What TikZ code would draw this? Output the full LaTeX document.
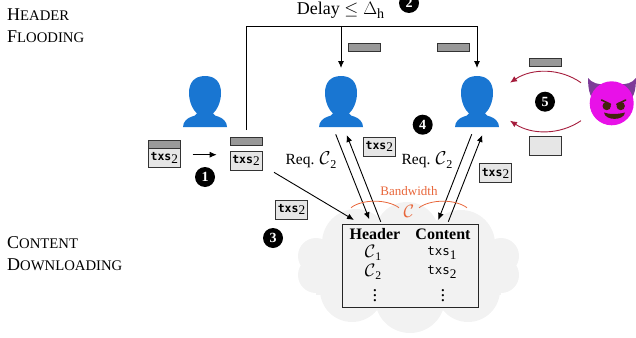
\RequirePackage{fix-cm}
\documentclass[tikz,border=0pt]{standalone}
\usepackage{amsmath}
\usepackage{graphicx}
\usepackage{fontspec}
\setmainfont{Liberation Serif}
\newfontfamily\txsfont{DejaVu Sans Mono}
\usetikzlibrary{arrows.meta,calc}
\definecolor{barg}{HTML}{999999}
\definecolor{bodyg}{HTML}{E6E6E6}
\definecolor{cloudg}{HTML}{F2F2F2}
\definecolor{personb}{HTML}{1976D2}
\definecolor{redc}{HTML}{A51C3C}
\definecolor{orangec}{HTML}{E8663A}
\definecolor{devilf}{HTML}{E811E8}
\definecolor{devilh}{HTML}{7D3C98}
\definecolor{devile}{HTML}{44240C}
\newcommand{\lowsub}[1]{\raisebox{-0.22em}{\scalebox{0.78}{#1}}}
\newcommand{\txst}[1]{{\fontsize{11.5}{12}\selectfont\txsfont\bfseries txs}\lowsub{\fontsize{17}{17}\selectfont #1}}
\newcommand{\txsr}[1]{{\fontsize{12.5}{13}\selectfont\txsfont txs}\lowsub{\fontsize{17}{17}\selectfont #1}}
\newcommand{\bigC}{\scalebox{1.2}{$\mathcal{C}$}}
\newcommand{\cc}[1]{\bigC\lowsub{#1}}
\newcommand{\fsc}[2]{{\fontsize{18}{18}\selectfont #1\fontsize{14.7}{18}\selectfont #2}}
\tikzset{
  conn/.style={line width=0.9pt,-{Latex[length=7pt,width=6pt]}},
  redarr/.style={line width=0.9pt,redc,-{Latex[length=7pt,width=6pt]}},
  orangearc/.style={line width=0.8pt,orangec},
  bar/.style={draw=black!80,line width=0.9pt,fill=barg,minimum width=32pt,minimum height=8pt,inner sep=0pt,outer sep=0pt},
  txsbox/.style={draw=black!80,line width=0.9pt,fill=bodyg,minimum width=32pt,minimum height=19pt,inner sep=0pt,outer sep=0pt},
  num/.style={circle,fill=black,text=white,minimum size=20pt,inner sep=0pt,font=\fontsize{14}{14}\selectfont\bfseries},
  lbl/.style={inner sep=0pt,font=\fontsize{15.5}{16}\selectfont},
  sidelbl/.style={inner sep=0pt,anchor=west},
  tbl/.style={inner sep=0pt,font=\fontsize{15}{16}\selectfont},
  tblh/.style={inner sep=0pt,font=\fontsize{16}{16}\selectfont\bfseries},
  cloudpart/.style={fill=cloudg},
}
\newcommand{\personicon}[2]{%
  \begin{scope}[shift={(#1,#2)}]
    \fill[personb] (0,-51) .. controls (-11,-51) and (-16,-44) .. (-16,-34)
      .. controls (-16,-25) and (-12,-17) .. (-8,-13.5)
      .. controls (-9,-11.5) and (-11,-11) .. (-13,-10.5)
      .. controls (-18,-9) and (-22,-5) .. (-22,0)
      -- (22,0)
      .. controls (22,-5) and (18,-9) .. (13,-10.5)
      .. controls (11,-11) and (9,-11.5) .. (8,-13.5)
      .. controls (12,-17) and (16,-25) .. (16,-34)
      .. controls (16,-44) and (11,-51) .. (0,-51) -- cycle;
  \end{scope}}
\begin{document}
\begin{tikzpicture}[x=1pt,y=-1pt]
\useasboundingbox (0,0) rectangle (636,337);
% cloud
\foreach \cx/\cy/\cr in {316/256/18,316/275/18,501/256/18,501/275/18,356/243/34,407/234/32,461/244/34,352/290/32,410/298/35,468/290/32}
  {\fill[cloudpart] (\cx,\cy) circle (\cr);}
\fill[cloudpart] (316,240) rectangle (501,295);
% persons
\personicon{205}{127}
\personicon{341}{127}
\personicon{477}{127}
% devil
\fill[devilh] (588,78) .. controls (588,92) and (591,100) .. (597,101) -- (606,84) .. controls (598,85) and (592,83) .. (588,78) -- cycle;
\fill[devilh] (636,78) .. controls (636,92) and (633,100) .. (627,101) -- (618,84) .. controls (626,85) and (632,83) .. (636,78) -- cycle;
\fill[devilf] (611.7,103.3) circle (22);
\fill[devile] (606.7,106) circle (4.2);
\fill[devile] (620.7,106) circle (4.2);
\fill[devilf] (601,99) -- (611,104) -- (604,96) -- cycle;
\draw[devile,line width=1.6pt,line cap=round] (601.5,100) -- (610.5,104.3) (625.7,100) -- (616.8,104.3);
\fill[devile] (604,112.5) .. controls (609,114.5) and (618,114.5) .. (625,112.5) .. controls (624,121) and (605,121) .. (604,112.5) -- cycle;
% table
\node[draw=black!85,line width=1pt,fill=cloudg,minimum width=136.5pt,minimum height=83pt,inner sep=0pt,outer sep=0pt] (table) at (410.6,265.8) {};
\node[tblh] (hh) at (375,234) {Header};
\node[tblh] (hc) at (443,234) {Content};
\node[tbl] (c1) at (373,253) {\cc{1}};
\node[tbl] (t1) at (442,253) {\txsr{1}};
\node[tbl] (c2) at (373,272) {\cc{2}};
\node[tbl] (t2) at (442,272) {\txsr{2}};
\node[tbl] (d1) at (375,292) {\scalebox{1.25}{$\vdots$}};
\node[tbl] (d2) at (443,292) {\scalebox{1.25}{$\vdots$}};
% boxes
\node[bar] (b0) at (164.3,144.5) {};
\node[txsbox,minimum height=18.5pt] (t0) at (164.3,158) {\txst{2}};
\node[bar] (b1) at (246,141.8) {};
\node[txsbox] (t1b) at (246,160.6) {\txst{2}};
\node[bar] (b2) at (364.3,47.8) {};
\node[bar] (b3) at (453.8,47.8) {};
\node[bar] (b4) at (545.2,62.7) {};
\node[txsbox] (e4) at (545.2,146.2) {};
\node[txsbox] (t2b) at (379.3,146.7) {\txst{2}};
\node[txsbox] (t3b) at (495.5,173.2) {\txst{2}};
\node[txsbox] (t4b) at (291.5,209.5) {\txst{2}};
% labels
\node[num] (n1) at (205,177) {1};
\node[num] (n2) at (409,3) {2};
\node[num] (n3) at (273,238) {3};
\node[num] (n4) at (422.7,124.7) {4};
\node[num] (n5) at (545,101.7) {5};
\node[inner sep=0pt,font=\fontsize{18}{19}\selectfont] (delay) at (340.5,10.5) {Delay $\leq\Delta$\lowsub{h}};
\node[lbl] (r1) at (311,160) {Req. \cc{2}};
\node[lbl] (r2) at (427,160) {Req. \cc{2}};
\node[sidelbl] (s1) at (7,15) {\fsc{H}{EADER}};
\node[sidelbl] (s2) at (7,37) {\fsc{F}{LOODING}};
\node[sidelbl] (s3) at (7,243) {\fsc{C}{ONTENT}};
\node[sidelbl] (s4) at (7,265) {\fsc{D}{OWNLOADING}};
\node[inner sep=0pt,text=orangec,font=\fontsize{13}{14}\selectfont] (bw) at (409,191) {Bandwidth};
\node[inner sep=0pt,text=orangec,font=\fontsize{15}{16}\selectfont] (cap) at (409,211) {\bigC};
% connector end points
\coordinate (a0s) at (192.7,154.7); \coordinate (a0e) at (216.7,154.7);
\coordinate (fork) at (246,130); \coordinate (topl) at (246,26);
\coordinate (topm) at (341,26); \coordinate (topr) at (477,26);
\coordinate (pm) at (341,68); \coordinate (pr) at (477,68);
\coordinate (t1s) at (274,172.3); \coordinate (t1e) at (354,220);
\coordinate (pmdn) at (335.7,134.3); \coordinate (tbl1) at (369.3,219.3);
\coordinate (tbl2) at (380.7,221.7); \coordinate (pmup) at (346.7,135);
\coordinate (prdn) at (471.7,134.3); \coordinate (tbl3) at (438.3,220);
\coordinate (tbl4) at (448.3,221.7); \coordinate (prup) at (482.3,135);
\coordinate (dt) at (581,82.7); \coordinate (dte) at (510,82.7);
\coordinate (db) at (581,120.7); \coordinate (dbe) at (510,120.7);
\draw[conn] (a0s) -- (a0e);
\draw[conn] (fork) -- (topl) -- (topr) -- (pr);
\draw[conn] (topm) -- (pm);
\draw[conn] (t1s) -- (t1e);
\draw[conn] (pmdn) -- (tbl1);
\draw[conn] (tbl2) -- (pmup);
\draw[conn] (prdn) -- (tbl3);
\draw[conn] (tbl4) -- (prup);
\draw[redarr] (dt) .. controls (560,68) and (532,68) .. (dte);
\draw[redarr] (db) .. controls (560,135) and (532,135) .. (dbe);
\draw[orangearc] (351,207.7) .. controls (362,199) and (387,199) .. (399,207.7);
\draw[orangearc] (419,207.7) .. controls (431,199) and (455,199) .. (467,207.7);
\end{tikzpicture}
\end{document}
